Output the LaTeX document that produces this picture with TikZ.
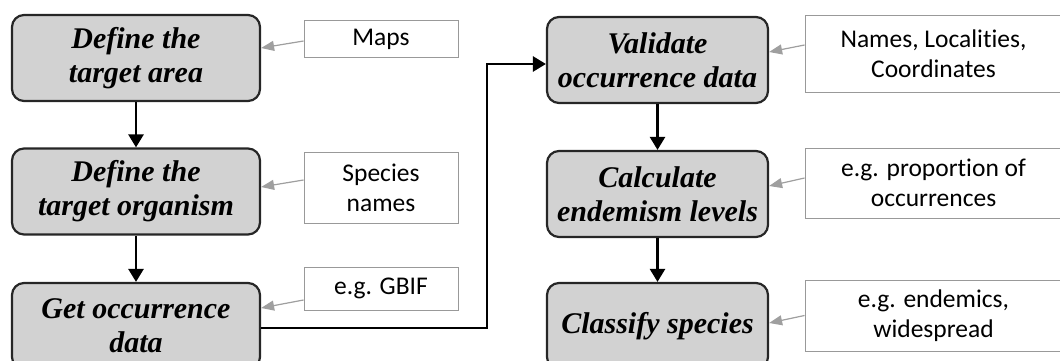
\documentclass[tikz,border=0pt]{standalone}
\usepackage{fontspec}
\setmainfont{Liberation Serif}
\newfontfamily\notefont[Ligatures=NoCommon]{Carlito}
\usetikzlibrary{arrows.meta}

\begin{document}
\begin{tikzpicture}[
    x=1pt, y=-1pt,
    stepbox/.style={draw=black!85, line width=2.2pt, rounded corners=12pt, fill=gray!35,
      minimum height=86pt, align=center,
      font=\fontsize{30}{34}\selectfont\bfseries\itshape},
    note/.style={draw=gray!80, line width=1pt, fill=white, align=center,
      font=\notefont\fontsize{25.5}{30}\selectfont},
    flow/.style={line width=2.6pt, -{Triangle[width=15pt,length=13pt]}},
    feed/.style={draw=gray!75, line width=1.2pt, -{Triangle[width=10pt,length=13pt]}, fill=gray!75},
]
\useasboundingbox (0,0) rectangle (1060,361);

% Steps, left column
\node[stepbox, minimum width=248pt] (area) at (136,58) {Define the\\target area};
\node[stepbox, minimum width=248pt] (organism) at (136,191.5) {Define the\\target organism};
\node[stepbox, minimum width=248pt] (occ) at (136,326) {Get occurrence\\data};

% Steps, right column
\node[stepbox, minimum width=221pt] (valid) at (657.5,60) {Validate\\occurrence data};
\node[stepbox, minimum width=221pt] (levels) at (657.5,194) {Calculate\\endemism levels};
\node[stepbox, minimum width=221pt] (classify) at (657.5,326) {Classify species};

% Notes
\node[note, minimum width=154pt, minimum height=37pt] (maps) at (381,39.5) {Maps};
\node[note, minimum width=154pt, minimum height=71pt] (species) at (381,187.5) {Species\\names};
\node[note, minimum width=154pt, minimum height=43pt] (gbif) at (381,288.5) {e.g. GBIF};
\node[note, minimum width=257pt, minimum height=76pt] (names) at (933.5,54) {Names, Localities,\\Coordinates};
\node[note, minimum width=257pt, minimum height=70pt] (prop) at (933.5,183) {e.g. proportion of\\occurrences};
\node[note, minimum width=257pt, minimum height=71pt] (endem) at (933.5,315.5) {e.g. endemics,\\widespread};

% Main flow
\draw[flow] (area) -- (organism);
\draw[flow] (organism) -- (occ);
\coordinate (bend) at (487,200);
\draw[flow] ([yshift=-2pt]occ.east) -| (bend) |- ([yshift=-4pt]valid.west);
\draw[flow] (valid) -- (levels);
\draw[flow] (levels) -- (classify);

% Inputs
\draw[feed] ([yshift=-1.5pt]maps.west) -- ([yshift=10pt]area.east);
\draw[feed] ([yshift=7.5pt]species.west) -- ([yshift=4.5pt]organism.east);
\draw[feed] ([yshift=-11.5pt]gbif.west) -- ([yshift=18pt]occ.east);
\draw[feed] ([yshift=9pt]names.west) -- ([yshift=8pt]valid.east);
\draw[feed] ([yshift=5pt]prop.west) -- ([yshift=8pt]levels.east);
\draw[feed] (endem.west) -- ([yshift=3pt]classify.east);

\end{tikzpicture}
\end{document}
